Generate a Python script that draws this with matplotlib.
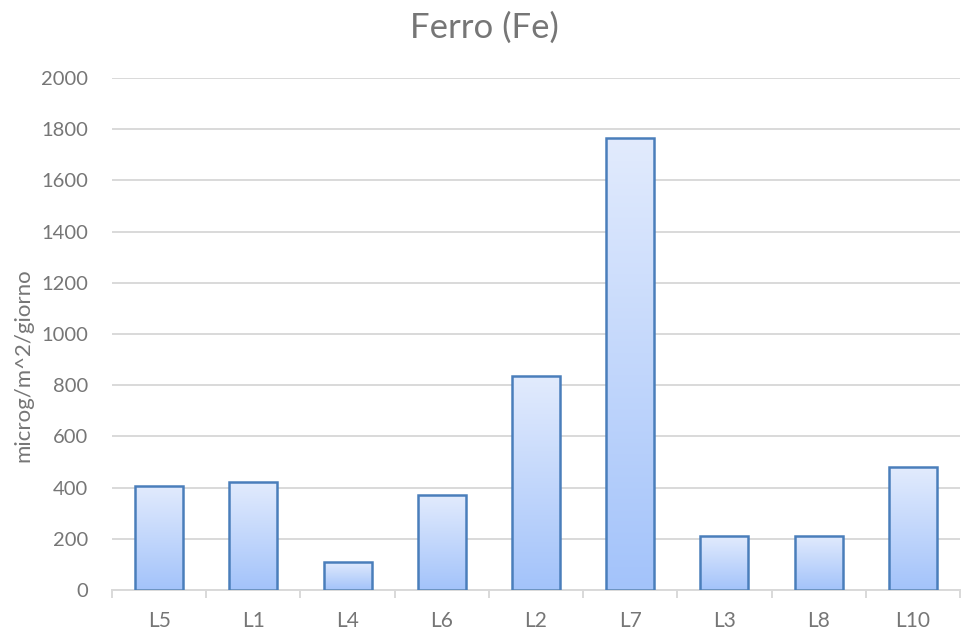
import numpy as np
import matplotlib.pyplot as plt
from matplotlib.colors import LinearSegmentedColormap

# dati
siti = ["L5", "L1", "L4", "L6", "L2", "L7", "L3", "L8", "L10"]
ferro = [408, 420, 110, 370, 835, 1765, 209, 211, 480]

GRIGIO = "#767676"
plt.rcParams['font.family'] = ['Lato', 'DejaVu Sans']

fig = plt.figure(figsize=(9.61, 6.34), dpi=100)
ax = fig.add_axes([0.1165, 0.0694, 0.8825, 0.8076])

x = np.arange(len(siti))
larghezza = 0.51
barre = ax.bar(x, ferro, width=larghezza, facecolor="none",
               edgecolor="#4a7ebb", linewidth=1.8, zorder=3)

# riempimento sfumato per ogni barra
cmap = LinearSegmentedColormap.from_list("sf", ["#a3c3fa", "#e2ebfd"])
grad = np.linspace(0, 1, 256).reshape(-1, 1)
for b in barre:
    x0, w, h = b.get_x(), b.get_width(), b.get_height()
    im = ax.imshow(grad, cmap=cmap, aspect="auto", origin="lower",
                   extent=[x0, x0 + w, 0, h], zorder=2)
    im.set_clip_path(b)

ax.set_xlim(-0.5, len(siti) - 0.5)
ax.set_ylim(0, 2000)
ax.set_yticks(np.arange(0, 2001, 200))
ax.set_xticks(x)
ax.set_xticklabels(siti)
ax.set_xticks(np.arange(-0.5, len(siti), 1), minor=True)

ax.grid(axis="y", color="#d9d9d9", linewidth=1.4, zorder=0)
ax.set_axisbelow(True)
for s in ["top", "right", "left"]:
    ax.spines[s].set_visible(False)
ax.spines["bottom"].set_color("#d9d9d9")
ax.spines["bottom"].set_linewidth(1.4)

ax.tick_params(axis="both", which="major", length=0, labelcolor=GRIGIO)
ax.tick_params(axis="y", labelsize=14.5, pad=17)
ax.tick_params(axis="x", labelsize=15, pad=15)
ax.tick_params(axis="x", which="minor", length=6, width=1.4, color="#d9d9d9")

ax.set_ylabel("microg/m^2/giorno", fontsize=16, color=GRIGIO, labelpad=6)
ax.yaxis.label.set_y(0.44)
fig.text(0.504, 0.957, "Ferro (Fe)", fontsize=25, color=GRIGIO,
         ha="center", va="center")

fig.savefig("out.png", dpi=100, facecolor="white")
